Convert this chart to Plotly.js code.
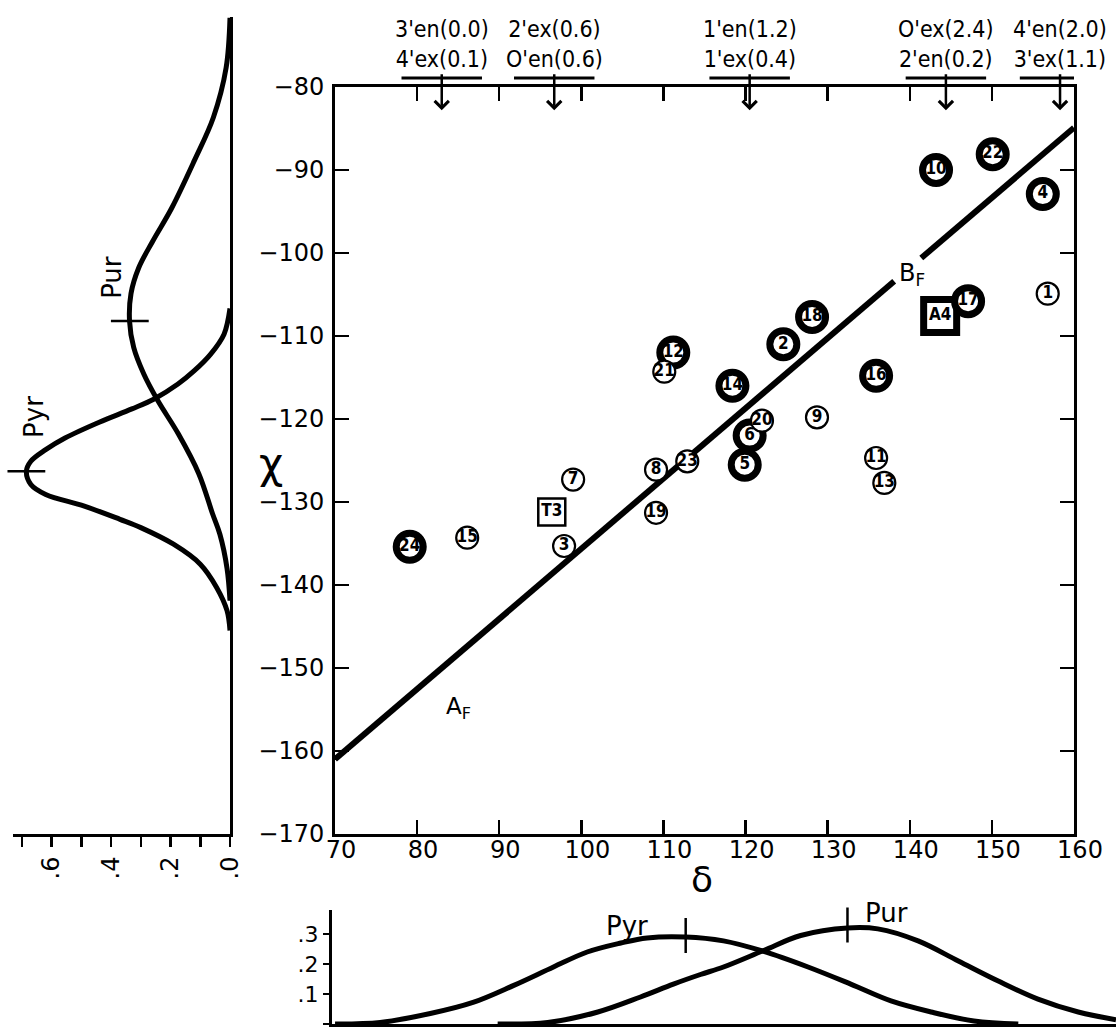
<!DOCTYPE html>
<html><head><meta charset="utf-8">
<script src="https://cdn.plot.ly/plotly-3.0.1.min.js"></script>
<style>html,body{margin:0;padding:0;background:#fff}#chart{width:1116px;height:1034px}</style>
</head><body><div id="chart"></div>
<script>
// ---------- data ----------
// thick-ring circles
const thickIds   = ['10','22','4','17','18','2','12','14','16','6','5','24'];
const thickDelta = [143.2,150.1,156.2,147.1,128.1,124.6,111.2,118.4,135.9,120.5,119.9,79.1];
const thickChi   = [-90.0,-88.1,-92.9,-105.8,-107.7,-111.0,-112.0,-116.0,-114.8,-122.0,-125.5,-135.4];
// thin circles
const thinIds    = ['1','21','20','9','11','13','7','8','23','19','3','15'];
const thinDelta  = [156.8,110.1,122.0,128.7,135.9,136.9,99.0,109.1,112.9,109.1,97.9,86.1];
const thinChi    = [-104.9,-114.3,-120.2,-119.8,-124.7,-127.7,-127.3,-126.1,-125.1,-131.3,-135.3,-134.3];
// squares
const thickSqIds = ['A4'], thickSqDelta = [143.7], thickSqChi = [-107.6];
const thinSqIds  = ['T3'], thinSqDelta  = [96.4],  thinSqChi  = [-131.2];
// fitted line A_F – B_F (broken at the B_F label)
const fitDelta = [70, 138.1, null, 141.4, 160];
const fitChi   = [-161.0, -103.4, null, -100.6, -84.9];
// top conformation markers
const topLine1   = ["3'en(0.0)", "2'ex(0.6)", "1'en(1.2)", "O'ex(2.4)", "4'en(2.0)"];
const topLine2   = ["4'ex(0.1)", "O'en(0.6)", "1'ex(0.4)", "2'en(0.2)", "3'ex(1.1)"];
const arrowDelta = [83.0, 96.7, 120.5, 144.4, 158.3];
// left marginal distributions (value vs chi)
const leftPyrChi = [-106.7,-109.8,-112.2,-114.2,-115.8,-117.6,-118.8,-120.4,-122.3,-123.7,-125.1,-126.3,-127.9,-129.1,-130.5,-132.1,-133.1,-135.1,-137.5,-140.3,-143.1,-145.5];
const leftPyrVal = [0,0.02,0.065,0.12,0.175,0.255,0.33,0.44,0.555,0.62,0.67,0.685,0.67,0.62,0.49,0.37,0.30,0.19,0.10,0.045,0.01,0];
const leftPurChi = [-71.7,-77.7,-83.7,-88.9,-94.6,-98.6,-101.8,-104.9,-108.2,-111.4,-114.6,-117.8,-121.8,-126.6,-131.4,-133.9,-138.0,-141.9];
const leftPurVal = [0,0.013,0.056,0.12,0.196,0.26,0.307,0.333,0.338,0.324,0.29,0.243,0.174,0.105,0.059,0.034,0.01,0];
const leftPeakVal = [0.685, 0.337], leftPeakChi = [-126.3, -108.2];
// bottom marginal distributions (value vs delta)
const botPyrDelta = [70,75.5,81.6,86.8,91.7,96.6,100.7,104.8,108.0,112.7,117.3,122.2,127.6,132.8,137.7,142.6,147.8,153.2];
const botPyrVal   = [0,0.005,0.035,0.072,0.128,0.19,0.24,0.27,0.287,0.29,0.277,0.242,0.19,0.133,0.077,0.04,0.01,0];
const botPurDelta = [89.8,95.9,102.0,107.2,111.2,114.5,117.3,122.2,126.7,132.4,136.1,141.0,145.9,150.7,155.6,160.5,165.1];
const botPurVal   = [0,0.005,0.04,0.09,0.133,0.165,0.19,0.245,0.295,0.32,0.317,0.277,0.21,0.144,0.083,0.04,0.014];
const botPeakDelta = [112.7, 132.4], botPeakVal = [0.295, 0.33];
// axis tick labels
const leftTickVals = [0, 0.2, 0.4, 0.6];
const leftTickText = ['.0', '.2', '.4', '.6'];
const botTickVals  = [0, 0.1, 0.2, 0.3];
const botTickText  = ['.0', '.1', '.2', '.3'];

// ---------- layout helpers ----------
const W = 1116, H = 1034;
const px = v => v / W, py = v => 1 - v / H;
const MAIN = '"DejaVu Sans", sans-serif';
const NARROW = '"Liberation Sans Narrow", "DejaVu Sans Condensed", "DejaVu Sans", sans-serif';
const BLACK = '#000';

const traces = [];
traces.push({x: fitDelta, y: fitChi, mode: 'lines', line: {color: BLACK, width: 6}, xaxis: 'x', yaxis: 'y', hoverinfo: 'skip', connectgaps: false});

function pts(ids, xs, ys, symbol, size, lw) {
  return {x: xs, y: ys, text: ids, mode: 'markers+text', textposition: 'middle center',
    textfont: {family: NARROW, size: 17, color: BLACK, weight: 'bold'},
    marker: {symbol: symbol, size: size, color: '#fff', line: {color: BLACK, width: lw}},
    xaxis: 'x', yaxis: 'y', cliponaxis: false};
}
traces.push(pts(thinSqIds, thinSqDelta, thinSqChi, 'square', 27, 2.5));
traces.push(pts(thickSqIds, thickSqDelta, thickSqChi, 'square', 33, 7));
traces.push(pts(thickIds, thickDelta, thickChi, 'circle', 27, 7));
traces.push(pts(thinIds, thinDelta, thinChi, 'circle', 22, 2.2));

// left marginal
traces.push({x: leftPyrVal, y: leftPyrChi, mode: 'lines', line: {color: BLACK, width: 5, shape: 'spline', smoothing: 1}, xaxis: 'x2', yaxis: 'y2'});
traces.push({x: leftPurVal, y: leftPurChi, mode: 'lines', line: {color: BLACK, width: 5, shape: 'spline', smoothing: 1}, xaxis: 'x2', yaxis: 'y2'});
traces.push({x: leftPeakVal, y: leftPeakChi, mode: 'markers', marker: {symbol: 'line-ew', size: 27, line: {color: BLACK, width: 2.5}}, xaxis: 'x2', yaxis: 'y2', cliponaxis: false});
// bottom marginal
traces.push({x: botPyrDelta, y: botPyrVal, mode: 'lines', line: {color: BLACK, width: 5, shape: 'spline', smoothing: 1}, xaxis: 'x3', yaxis: 'y3', cliponaxis: false});
traces.push({x: botPurDelta, y: botPurVal, mode: 'lines', line: {color: BLACK, width: 5, shape: 'spline', smoothing: 1}, xaxis: 'x3', yaxis: 'y3', cliponaxis: false});
traces.push({x: botPeakDelta, y: botPeakVal, mode: 'markers', marker: {symbol: 'line-ns', size: 25, line: {color: BLACK, width: 2.5}}, xaxis: 'x3', yaxis: 'y3', cliponaxis: false});

const annotations = [];
const shapes = [];
arrowDelta.forEach((d, i) => {
  // two-line label with its arrow pointing into the plot
  annotations.push({xref: 'x', yref: 'y', x: d, y: -82.8, ax: 0, ay: -36, xanchor: 'center', yanchor: 'bottom',
    text: topLine1[i] + '<br>' + topLine2[i], showarrow: true,
    arrowhead: 4, arrowsize: 1.1, arrowwidth: 2.5, arrowcolor: BLACK,
    font: {family: NARROW, size: 23, color: BLACK}});
  shapes.push({type: 'line', xref: 'x', yref: 'paper', x0: d - 4.9, x1: d + 4.9, y0: py(78), y1: py(78), line: {color: BLACK, width: 3}});
});
annotations.push({xref: 'x', yref: 'y', x: 140.3, y: -102.6, text: 'B<sub>F</sub>', showarrow: false, font: {family: MAIN, size: 24, color: BLACK}});
annotations.push({xref: 'x', yref: 'y', x: 85.0, y: -154.8, text: 'A<sub>F</sub>', showarrow: false, font: {family: MAIN, size: 23, color: BLACK}});
annotations.push({xref: 'paper', yref: 'paper', x: px(257), y: py(463), text: 'χ', showarrow: false, font: {family: MAIN, size: 42, color: BLACK}});
annotations.push({xref: 'paper', yref: 'paper', x: px(702), y: py(902), text: 'δ', showarrow: false, font: {family: MAIN, size: 36, color: BLACK}});
annotations.push({xref: 'x2', yref: 'y2', x: 0.657, y: -119.8, text: 'Pyr', textangle: -90, showarrow: false, font: {family: MAIN, size: 26, color: BLACK}});
annotations.push({xref: 'x2', yref: 'y2', x: 0.397, y: -102.9, text: 'Pur', textangle: -90, showarrow: false, font: {family: MAIN, size: 26, color: BLACK}});
annotations.push({xref: 'x3', yref: 'y3', x: 105.6, y: 0.328, text: 'Pyr', showarrow: false, font: {family: MAIN, size: 26, color: BLACK}});
annotations.push({xref: 'x3', yref: 'y3', x: 137.2, y: 0.37, text: 'Pur', showarrow: false, font: {family: MAIN, size: 26, color: BLACK}});

const tickFont = {family: MAIN, size: 24, color: BLACK};
const layout = {
  width: W, height: H, margin: {l: 0, r: 0, t: 0, b: 0},
  paper_bgcolor: '#fff', plot_bgcolor: 'rgba(0,0,0,0)', showlegend: false,
  xaxis: {domain: [px(335), px(1074)], range: [70, 160], anchor: 'y', dtick: 10,
    showline: true, linewidth: 3, linecolor: BLACK, mirror: 'ticks', ticks: 'inside', ticklen: 14, tickwidth: 2.5, tickcolor: BLACK,
    ticklabelstandoff: -8, ticklabelshift: 6, showgrid: false, zeroline: false, tickfont: tickFont},
  yaxis: {domain: [py(834), py(87)], range: [-170, -80], anchor: 'x', dtick: 10,
    showline: true, linewidth: 3, linecolor: BLACK, mirror: 'ticks', ticks: 'inside', ticklen: 14, tickwidth: 2.5, tickcolor: BLACK,
    ticklabelstandoff: 3, showgrid: false, zeroline: false, tickfont: tickFont},
  xaxis2: {domain: [px(13), px(230)], range: [0.73, 0], anchor: 'y2', tickvals: leftTickVals, ticktext: leftTickText,
    tickangle: -90, showline: true, linewidth: 3, linecolor: BLACK, ticks: 'outside', ticklen: 10, tickwidth: 2.5, tickcolor: BLACK,
    minor: {dtick: 0.1, tick0: 0, ticks: 'outside', ticklen: 10, tickwidth: 2.5, tickcolor: BLACK, showgrid: false},
    showgrid: false, zeroline: false, tickfont: tickFont},
  yaxis2: {domain: [py(834), py(17)], range: [-170, -71.6], anchor: 'x2', side: 'right',
    showline: true, linewidth: 2.5, linecolor: BLACK, ticks: '', showticklabels: false, showgrid: false, zeroline: false},
  xaxis3: {domain: [px(332), 1], range: [69.63, 165.1], anchor: 'y3',
    showline: true, linewidth: 3, linecolor: BLACK, ticks: '', showticklabels: false, showgrid: false, zeroline: false},
  yaxis3: {domain: [py(1024), py(910)], range: [0, 0.38], anchor: 'x3', tickvals: botTickVals, ticktext: botTickText,
    showline: true, linewidth: 3, linecolor: BLACK, ticks: 'outside', ticklen: 6, tickwidth: 2.5, tickcolor: BLACK,
    showgrid: false, zeroline: false, tickfont: {family: MAIN, size: 22, color: BLACK}},
  annotations: annotations, shapes: shapes
};
Plotly.newPlot('chart', traces, layout, {staticPlot: true, displayModeBar: false});
</script></body></html>
